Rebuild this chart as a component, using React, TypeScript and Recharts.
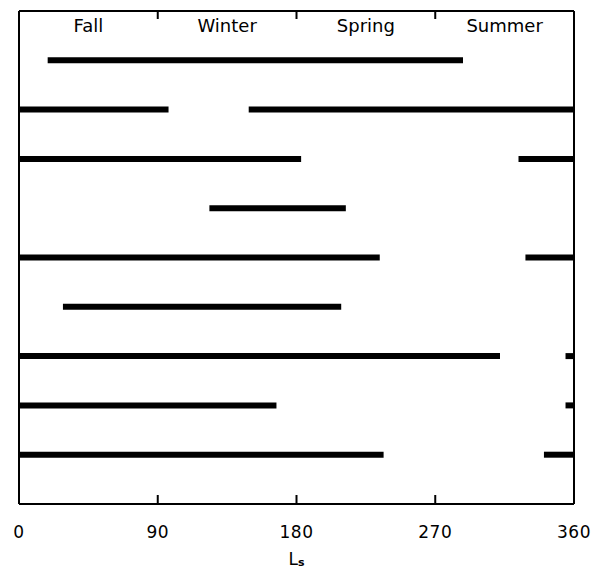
import { LineChart, Line, XAxis, YAxis } from "recharts";

// observation rows, top to bottom
const rowIds = [1, 2, 3, 4, 5, 6, 7, 8, 9];
// one entry per coverage segment (row, start Ls, end Ls)
const segRow = [1, 2, 2, 3, 3, 4, 5, 5, 6, 7, 7, 8, 8, 9, 9];
const segStart = [18.6, 0, 149, 0, 324, 123.5, 0, 328.5, 28.5, 0, 354.5, 0, 354.5, 0, 340.5];
const segEnd = [288, 97, 360, 183, 360, 212, 234, 360, 209, 312, 360, 167, 360, 236.5, 360];

const lsTicks = [0, 90, 180, 270, 360];
const seasonTicks = [90, 180, 270];
const seasonMid = [45, 135, 225, 315];
const seasonNames = ["Fall", "Winter", "Spring", "Summer"];

const font = "DejaVu Sans";
const frame = { stroke: "#000", strokeWidth: 2 };
const text = { fill: "#000", fontSize: 17, fontFamily: font, letterSpacing: 0.5 };

const segments = segRow.map((row, i) => ({
  id: `seg-${i}`,
  data: [
    { x: segStart[i], y: row },
    { x: segEnd[i], y: row }
  ]
}));

function LsLabel({ viewBox }: any) {
  const cx = viewBox.x + viewBox.width / 2;
  return (
    <text x={cx} y={565} textAnchor="middle" fill="#000" fontFamily={font} fontSize={17}>
      <tspan>L</tspan>
      <tspan fontSize={11} fontWeight="bold" dy={1}>s</tspan>
    </text>
  );
}

export default function App() {
  return (
    <div style={{ position: "absolute", left: 0, top: 0, background: "#fff" }}>
      <LineChart width={600} height={574} margin={{ top: 10, right: 25, left: 18, bottom: 0 }}>
        <XAxis
          dataKey="x"
          type="number"
          domain={[0, 360]}
          ticks={lsTicks}
          interval={0}
          allowDataOverflow
          height={70}
          axisLine={frame}
          tickLine={frame}
          tickSize={-9}
          tickMargin={31}
          tick={text}
          label={<LsLabel />}
        />
        <XAxis
          xAxisId="top"
          orientation="top"
          dataKey="x"
          type="number"
          domain={[0, 360]}
          ticks={seasonTicks}
          interval={0}
          allowDataOverflow
          height={1}
          axisLine={frame}
          tickLine={frame}
          tickSize={-8}
          tick={{ fontSize: 1 }}
          tickFormatter={() => ""}
        />
        <XAxis
          xAxisId="season"
          orientation="top"
          mirror
          dataKey="x"
          type="number"
          domain={[0, 360]}
          ticks={seasonMid}
          interval={0}
          allowDataOverflow
          height={1}
          axisLine={false}
          tickLine={false}
          tickSize={0}
          tickMargin={8}
          tick={{ ...text, fontSize: 18, letterSpacing: 0 }}
          tickFormatter={(v: number) => seasonNames[seasonMid.indexOf(v)]}
        />
        <YAxis
          dataKey="y"
          type="number"
          domain={[0, rowIds.length + 1]}
          reversed
          width={1}
          axisLine={frame}
          tickLine={false}
          tick={false}
        />
        <YAxis
          yAxisId="right"
          orientation="right"
          type="number"
          domain={[0, rowIds.length + 1]}
          reversed
          width={1}
          axisLine={frame}
          tickLine={false}
          tick={false}
        />
        {segments.map((s) => (
          <Line
            key={s.id}
            data={s.data}
            dataKey="y"
            type="linear"
            stroke="#000"
            strokeWidth={6}
            dot={false}
            activeDot={false}
            isAnimationActive={false}
          />
        ))}
      </LineChart>
    </div>
  );
}
